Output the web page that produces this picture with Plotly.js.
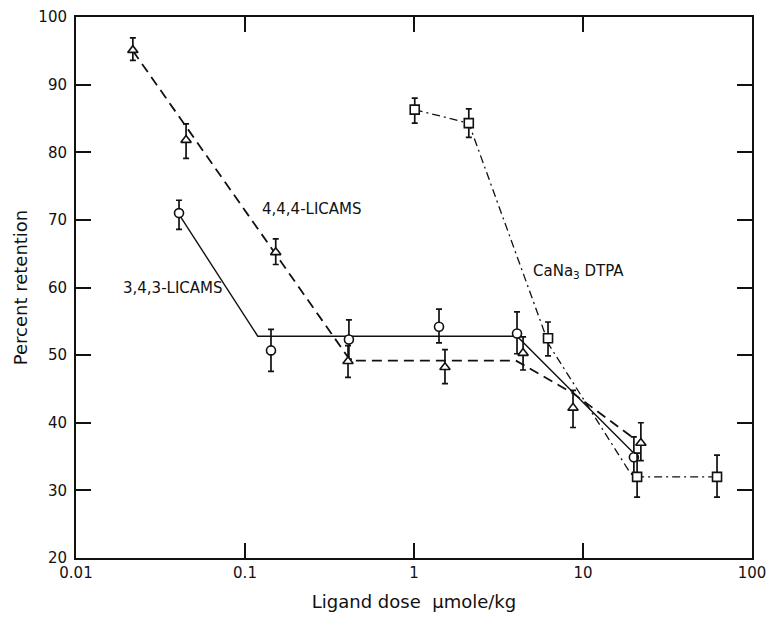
<!DOCTYPE html>
<html>
<head>
<meta charset="utf-8">
<script src="https://cdn.plot.ly/plotly-3.0.1.min.js"></script>
<style>html,body{margin:0;padding:0;background:#fff;}#chart{width:770px;height:622px;}</style>
</head>
<body>
<div id="chart"></div>
<script>
// 3,4,3-LICAMS (circles)
var licams343Dose = [0.0407, 0.1425, 0.412, 1.406, 4.07, 20.0];
var licams343Ret  = [71.0, 50.7, 52.3, 54.2, 53.2, 34.9];
var licams343ErrUp   = [1.9, 3.1, 2.9, 2.6, 3.2, 3.0];
var licams343ErrDown = [2.4, 3.1, 2.9, 2.4, 3.0, 2.5];
var fit343Dose = [0.0407, 0.119, 4.07, 20.0];
var fit343Ret  = [70.8, 52.8, 52.8, 35.5];

// 4,4,4-LICAMS (triangles)
var licams444Dose = [0.0217, 0.0448, 0.152, 0.407, 1.525, 4.42, 8.73, 22.0];
var licams444Ret  = [95.1, 81.8, 65.2, 49.1, 48.2, 50.3, 42.2, 37.0];
var licams444ErrUp   = [1.8, 2.4, 2.0, 2.3, 2.6, 2.4, 2.6, 3.0];
var licams444ErrDown = [1.5, 2.7, 1.8, 2.4, 2.4, 2.5, 2.9, 2.6];
var fit444Dose = [0.0217, 0.42, 4.0, 8.8, 20.5];
var fit444Ret  = [95.0, 49.2, 49.2, 44.3, 37.5];

// CaNa3 DTPA (squares)
var dtpaDose = [1.01, 2.11, 6.21, 20.9, 62.1];
var dtpaRet  = [86.3, 84.3, 52.5, 32.0, 32.0];
var dtpaErrUp   = [1.7, 2.1, 2.4, 3.5, 3.2];
var dtpaErrDown = [2.0, 2.1, 2.6, 3.0, 3.0];
var fitDtpaDose = [1.01, 2.11, 6.3, 18.9, 20.9, 62.1];
var fitDtpaRet  = [86.3, 84.3, 51.5, 32.7, 32.0, 32.0];

var xTickVals = [0.01, 0.1, 1, 10, 100];
var xTickText = ["0.01", "0.1", "1", "10", "100"];
var yTickVals = [20, 30, 40, 50, 60, 70, 80, 90, 100];

var black = "#111";
function fitTrace(x, y, dash, w) {
  return {x: x, y: y, type: "scatter", mode: "lines", hoverinfo: "skip",
    line: {color: black, width: w, dash: dash}, showlegend: false};
}
function ptTrace(x, y, up, down, sym, sz) {
  return {x: x, y: y, type: "scatter", mode: "markers", showlegend: false,
    marker: {symbol: sym, size: sz, color: "#fff", line: {color: black, width: 1.6}},
    error_y: {type: "data", symmetric: false, array: up, arrayminus: down,
      color: black, thickness: 1.7, width: 3}};
}

var data = [
  fitTrace(fit343Dose, fit343Ret, "solid", 1.4),
  fitTrace(fit444Dose, fit444Ret, "10px,6px", 1.8),
  fitTrace(fitDtpaDose, fitDtpaRet, "8px,4px,2px,4px", 1.3),
  ptTrace(licams343Dose, licams343Ret, licams343ErrUp, licams343ErrDown, "circle", 9),
  ptTrace(licams444Dose, licams444Ret, licams444ErrUp, licams444ErrDown, "triangle-up", 9),
  ptTrace(dtpaDose, dtpaRet, dtpaErrUp, dtpaErrDown, "square", 9)
];

var fam = "DejaVu Sans, Liberation Sans, sans-serif";
var layout = {
  width: 770, height: 622,
  margin: {l: 76, r: 18, t: 17, b: 64},
  paper_bgcolor: "#fff", plot_bgcolor: "#fff",
  font: {family: fam, color: black, size: 15},
  showlegend: false,
  xaxis: {
    type: "log", range: [-2, 2],
    tickvals: xTickVals, ticktext: xTickText,
    ticks: "inside", ticklen: 15, tickwidth: 2, tickcolor: black,
    showline: true, linewidth: 2, linecolor: black, mirror: "ticks",
    showgrid: false, zeroline: false,
    tickfont: {size: 15, family: fam, color: black},
    title: {text: "Ligand dose  \u03bcmole/kg", font: {size: 18, family: fam, color: black}, standoff: 14}
  },
  yaxis: {
    range: [20, 100],
    tickvals: yTickVals,
    ticks: "inside", ticklen: 15, tickwidth: 2, tickcolor: black,
    ticklabelstandoff: 4,
    showline: true, linewidth: 2, linecolor: black, mirror: "ticks",
    showgrid: false, zeroline: false,
    tickfont: {size: 15, family: fam, color: black},
    title: {text: "Percent retention", font: {size: 18, family: fam, color: black}, standoff: 6}
  },
  annotations: [
    {x: Math.log10(0.25), y: 71.6, xref: "x", yref: "y", text: "4,4,4-LICAMS", showarrow: false,
      font: {size: 15, family: fam, color: black}},
    {x: Math.log10(0.0375), y: 59.9, xref: "x", yref: "y", text: "3,4,3-LICAMS", showarrow: false,
      font: {size: 15, family: fam, color: black}},
    {x: Math.log10(9.4), y: 62.4, xref: "x", yref: "y", text: "CaNa<sub>3</sub> DTPA", showarrow: false,
      font: {size: 15, family: fam, color: black}}
  ]
};

Plotly.newPlot("chart", data, layout, {displayModeBar: false, staticPlot: true});
</script>
</body>
</html>
